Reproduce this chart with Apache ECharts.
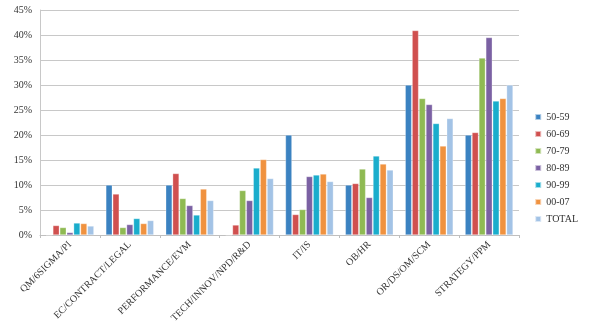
<!DOCTYPE html>
<html>
<head>
<meta charset="utf-8">
<script src="https://cdn.jsdelivr.net/npm/echarts@6/dist/echarts.min.js"></script>
<style>
  html, body { margin: 0; padding: 0; background: #fff; }
  #main { width: 589px; height: 324px; }
</style>
</head>
<body>
<div id="main"></div>
<script>
// categories along the x axis
var categories = ["QM/6SIGMA/PI", "EC/CONTRACT/LEGAL", "PERFORMANCE/EVM", "TECH/INNOV/NPD/R&D",
  "IT/IS", "OB/HR", "OR/DS/OM/SCM", "STRATEGY/PPM"];

// percent values per period
var s5059 = [0, 10, 10, 0, 20, 10, 30, 20];
var s6069 = [1.9, 8.2, 12.3, 2, 4.1, 10.3, 40.9, 20.5];
var s7079 = [1.5, 1.5, 7.3, 8.9, 5.1, 13.2, 27.3, 35.4];
var s8089 = [0.5, 2.1, 5.9, 6.9, 11.7, 7.5, 26.1, 39.5];
var s9099 = [2.4, 3.3, 4, 13.4, 12, 15.8, 22.3, 26.8];
var s0007 = [2.3, 2.3, 9.2, 15.1, 12.2, 14.2, 17.8, 27.3];
var sTotal = [1.8, 2.9, 6.9, 11.3, 10.7, 13, 23.3, 30];

var seriesNames = ["50-59", "60-69", "70-79", "80-89", "90-99", "00-07", "TOTAL"];
var seriesData = [s5059, s6069, s7079, s8089, s9099, s0007, sTotal];
var colors = ["#3B82C1", "#D0504F", "#8FBA53", "#7B61A3", "#1AADCC", "#F0923F", "#A3C3E6"];

var chart = echarts.init(document.getElementById("main"));

var font = "'Liberation Serif', 'DejaVu Serif', serif";

var series = seriesNames.map(function (name, i) {
  return {
    name: name,
    type: "bar",
    data: seriesData[i],
    barGap: "8%",
    barCategoryGap: "20%",
    itemStyle: { color: colors[i], borderColor: "rgba(255,255,255,0.6)", borderWidth: 0.5 }
  };
});

chart.setOption({
  animation: false,
  color: colors,
  grid: { left: 40, right: 70, top: 10, bottom: 89, outerBoundsMode: "none" },
  legend: {
    orient: "vertical",
    right: 6,
    top: 107,
    itemWidth: 6,
    itemHeight: 6,
    itemGap: 7,
    icon: "rect",
    textStyle: { fontFamily: font, fontSize: 10, color: "#333" },
    data: seriesNames
  },
  xAxis: {
    type: "category",
    data: categories,
    axisLine: { lineStyle: { color: "#bfbfbf" } },
    axisTick: { show: true, length: 3, lineStyle: { color: "#bfbfbf" } },
    axisLabel: { rotate: 45, interval: 0, fontFamily: font, fontSize: 10, color: "#333", margin: 8 }
  },
  yAxis: {
    type: "value",
    min: 0,
    max: 45,
    interval: 5,
    axisLine: { show: true, lineStyle: { color: "#c8c8c8" } },
    axisTick: { show: false },
    splitLine: { lineStyle: { color: "#c8c8c8" } },
    axisLabel: { formatter: "{value}%", fontFamily: font, fontSize: 10, color: "#333" }
  },
  series: series
});
</script>
</body>
</html>
